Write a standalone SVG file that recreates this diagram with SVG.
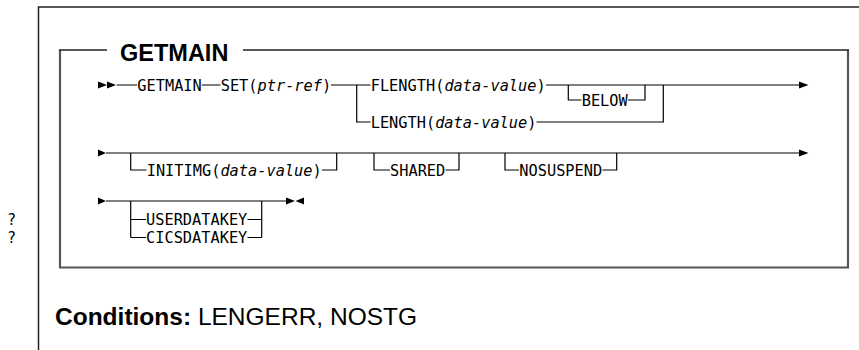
<svg xmlns="http://www.w3.org/2000/svg" width="859" height="350" viewBox="0 0 859 350">
<style>
.m{font-family:"DejaVu Sans Mono","Liberation Mono",monospace;font-size:15.3px;fill:#000}
.i{font-style:italic}
.c{fill:none;stroke:#000;stroke-width:1.2}
.h{fill:#000;stroke:none}
.t{font-family:"Liberation Sans",Arial,sans-serif;font-weight:bold;font-size:23.5px;fill:#000}
.cb{font-family:"Liberation Sans",Arial,sans-serif;font-weight:bold;font-size:24.5px;fill:#000}
.r{font-family:"Liberation Sans",Arial,sans-serif;font-size:24.5px;fill:#000}
</style>
<rect width="859" height="350" fill="#fff"/>
<g id="frame">
<path d="M38.5 350 V7 H859" fill="none" stroke="#222" stroke-width="1.5"/>
<path d="M60 50 V267.5 H848 V50" fill="none" stroke="#555" stroke-width="2.2"/>
<path d="M59 50 H107 M243 50 H849" fill="none" stroke="#222" stroke-width="1.5"/>
<text class="t" x="120" y="61">GETMAIN</text>
</g>
<g id="connectors">
<path class="c" d="M116.7 85 H137 M201.8 85 H220.5 M331 85 H370.5 M356.7 85 V122 H370.5 M546 85 H800 M568.3 85 V100 H581.5 M628 100 H645 V85 M536.5 122 H663.3 V85"/>
<polygon class="h" points="98,81.5 107,85 98,88.5"/>
<polygon class="h" points="107,81.5 116,85 107,88.5"/>
<polygon class="h" points="799,81.5 808.5,85 799,88.5"/>
<path class="c" d="M106 153 H800 M130.7 153 V170 H146.5 M322 170 H336.7 V153 M374 153 V170 H390 M445.5 170 H459 V153 M505 153 V170 H519 M602.5 170 H616.7 V153"/>
<polygon class="h" points="98,149.5 106,153 98,156.5"/>
<polygon class="h" points="799,149.5 808.5,153 799,156.5"/>
<path class="c" d="M106 201 H286 M130.7 201 V237.5 M130.7 219.5 H146 M130.7 237.5 H146 M247.5 219.5 H261.7 M247.5 237.5 H261.7 M261.7 201 V237.5"/>
<polygon class="h" points="98,197.5 106,201 98,204.5"/>
<polygon class="h" points="286,197.5 295,201 286,204.5"/>
<polygon class="h" points="304,197.5 295.5,201 304,204.5"/>
</g>
<g id="n-getmain"><text class="m" x="137.3" y="90.5">GETMAIN</text></g>
<g id="n-set"><text class="m" x="220.7" y="90.5">SET(<tspan class="i">ptr-ref</tspan>)</text></g>
<g id="n-flength"><text class="m" x="370.7" y="90.5">FLENGTH(<tspan class="i">data-value</tspan>)</text></g>
<g id="n-below"><text class="m" x="581.7" y="105.5">BELOW</text></g>
<g id="n-length"><text class="m" x="370.7" y="127.5">LENGTH(<tspan class="i">data-value</tspan>)</text></g>
<g id="n-initimg"><text class="m" x="146.7" y="175.5">INITIMG(<tspan class="i">data-value</tspan>)</text></g>
<g id="n-shared"><text class="m" x="390" y="175.5">SHARED</text></g>
<g id="n-nosuspend"><text class="m" x="519.3" y="175.5">NOSUSPEND</text></g>
<g id="n-userdatakey"><text class="m" x="146" y="225">USERDATAKEY</text></g>
<g id="n-cicsdatakey"><text class="m" x="146" y="243">CICSDATAKEY</text></g>
<g id="marks"><text class="m" x="7" y="225">?</text><text class="m" x="7" y="243">?</text></g>
<g id="conditions"><text x="55" y="325"><tspan class="cb">Conditions:</tspan><tspan class="r"> LENGERR, NOSTG</tspan></text></g>
</svg>
